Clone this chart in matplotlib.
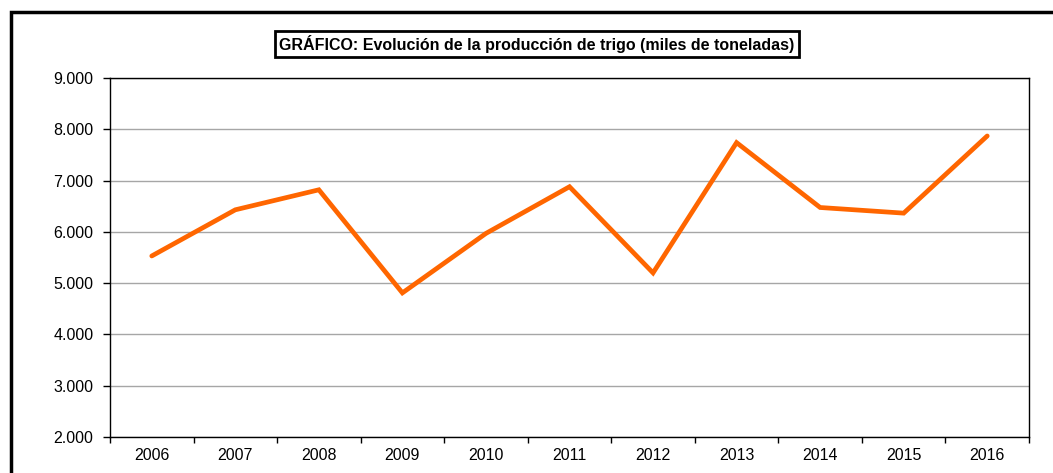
import matplotlib
matplotlib.use("Agg")
import matplotlib.pyplot as plt
from matplotlib.patches import Rectangle
from matplotlib.ticker import FuncFormatter, FixedLocator, NullFormatter

# Data
years = ['2006', '2007', '2008', '2009', '2010', '2011',
         '2012', '2013', '2014', '2015', '2016']
production = [5530, 6430, 6820, 4810, 5970, 6880,
              5200, 7740, 6475, 6365, 7870]

title = 'GRÁFICO: Evolución de la producción de trigo (miles de toneladas)'

plt.rcParams['font.family'] = ['Liberation Sans', 'DejaVu Sans']

fig = plt.figure(figsize=(10.53, 4.73), dpi=100)
ax = fig.add_axes([110 / 1053, 1 - 437 / 473, 919 / 1053, 359 / 473])

x = list(range(len(years)))
ax.plot(x, production, color='#FF6600', linewidth=3.4,
        solid_joinstyle='miter', solid_capstyle='round', zorder=3)

ax.set_xlim(-0.5, len(years) - 0.5)
ax.set_ylim(2000, 9000)
ax.set_yticks(range(2000, 9001, 1000))
ax.yaxis.set_major_formatter(FuncFormatter(lambda v, p: f'{int(v):,}'.replace(',', '.')))
ax.grid(axis='y', color='#a6a6a6', linewidth=1.0)
ax.set_axisbelow(True)

# category labels centered, ticks between categories
ax.xaxis.set_major_locator(FixedLocator([i - 0.5 for i in range(len(years) + 1)]))
ax.xaxis.set_major_formatter(NullFormatter())
ax.xaxis.set_minor_locator(FixedLocator(x))
ax.set_xticklabels(years, minor=True)
ax.tick_params(axis='x', which='minor', length=0, pad=8, labelsize=11.5)
ax.tick_params(axis='x', which='major', length=4, width=1, direction='out')
ax.tick_params(axis='y', length=5, width=1, direction='out', pad=7, labelsize=11.5)

for s in ax.spines.values():
    s.set_color('black')
    s.set_linewidth(1.0)

fig.text(537 / 1053, 1 - 44 / 473, title, ha='center', va='center',
         fontsize=11.5, fontweight='bold',
         bbox=dict(boxstyle='square,pad=0.25', facecolor='white',
                   edgecolor='black', linewidth=2))

# outer chart frame (cut by the image edges on right and bottom)
fig.patches.append(Rectangle((11 / 1053, -0.1), 1.1, 1 - 12 / 473 + 0.1,
                             transform=fig.transFigure, fill=False,
                             edgecolor='black', linewidth=2.5))

fig.savefig('out.png', dpi=100)
